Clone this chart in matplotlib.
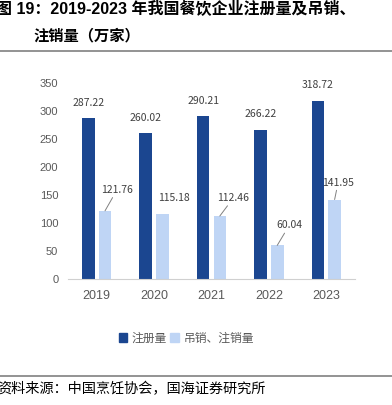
import matplotlib.pyplot as plt
import numpy as np
from matplotlib.patches import Patch

# data
years = ['2019', '2020', '2021', '2022', '2023']
registered = [287.22, 260.02, 290.21, 266.22, 318.72]
cancelled = [121.76, 115.18, 112.46, 60.04, 141.95]
series_names = ['注册量', '吊销、注销量']

# label offsets in pixels (dx, dy) for the light bars, and whether a leader line is drawn
light_offsets = [(12, 21), (11.5, 16), (13.5, 18), (12, 20), (3.5, 17)]
light_leader = [True, False, True, True, True]

dark = '#1B4690'
light = '#BFD5F5'
grey = '#595959'
cjk = ['Noto Sans CJK SC', 'DejaVu Sans']
latin_cjk = ['Liberation Sans', 'Noto Sans CJK SC']

plt.rcParams['font.family'] = cjk

fig = plt.figure(figsize=(3.92, 4.05), dpi=100)
ax = fig.add_axes([68 / 392, 1 - 279 / 405, 287 / 392, 196 / 405])

x = np.arange(len(years))
w = 0.22
off = 0.145
ax.bar(x - off, registered, w, color=dark)
ax.bar(x + off, cancelled, w, color=light)

px = 0.72  # points per pixel at dpi 100
for xi, v in zip(x, registered):
    ax.annotate(f'{v:.2f}', (xi - off, v), xytext=(0, 15.5 * px),
                textcoords='offset points', ha='center', va='center',
                fontsize=7.5, color='#404040')
for xi, v, (dx, dy), lead in zip(x, cancelled, light_offsets, light_leader):
    arrow = dict(arrowstyle='-', color='#808080', lw=0.7, shrinkA=0, shrinkB=0) if lead else None
    ax.annotate(f'{v:.2f}', (xi + off, v), xytext=(dx * px, dy * px),
                textcoords='offset points', ha='center', va='center',
                fontsize=7.5, color='#404040', arrowprops=arrow)

ax.set_xlim(-0.5, 4.5)
ax.set_ylim(0, 350)
ax.set_yticks(np.arange(0, 351, 50))
ax.set_xticks(x)
ax.set_xticklabels(years)
for s in ['top', 'right', 'left']:
    ax.spines[s].set_visible(False)
ax.spines['bottom'].set_color('#D0D0D0')
ax.tick_params(axis='both', length=0, colors=grey, labelsize=8)
ax.tick_params(axis='x', pad=8, labelsize=9)
ax.tick_params(axis='y', pad=7)
for lab in ax.get_xticklabels() + ax.get_yticklabels():
    lab.set_family(['Liberation Sans', 'DejaVu Sans'])

handles = [Patch(color=dark), Patch(color=light)]
leg = fig.legend(handles, series_names, loc='center', bbox_to_anchor=(0.475, 1 - 338 / 405),
                 ncol=2, frameon=False, fontsize=8.5, handlelength=0.7, handleheight=0.7,
                 handletextpad=0.4, columnspacing=0.3, labelcolor=grey)

# title and source
fig.text(-0.01, 1 - 8 / 405, '图 19：2019-2023 年我国餐饮企业注册量及吊销、',
         fontsize=11.5, fontweight='bold', family=latin_cjk, va='center', ha='left')
fig.text(33 / 392, 1 - 35 / 405, '注销量（万家）',
         fontsize=11, fontweight='bold', family=cjk, va='center', ha='left')
fig.add_artist(plt.Line2D([0, 1], [1 - 50.5 / 405] * 2, color='#808080', lw=1.2))
fig.add_artist(plt.Line2D([0, 1], [1 - 376 / 405] * 2, color='#808080', lw=1.2))
fig.text(-0.008, 1 - 389 / 405, '资料来源：中国烹饪协会，国海证券研究所',
         fontsize=10.2, family=cjk, va='center', ha='left')

fig.savefig('out.png', dpi=100)
